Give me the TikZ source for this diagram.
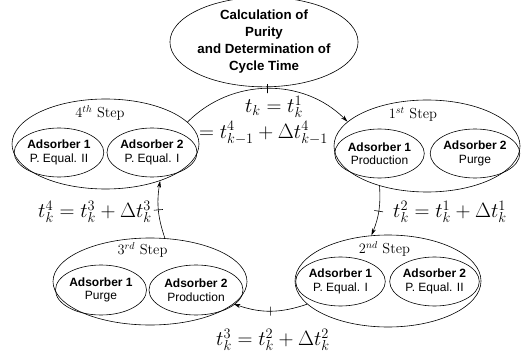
\documentclass[tikz,border=0pt]{standalone}
\usepackage{fontspec}
\newfontfamily\sfarial{Liberation Sans}
\usetikzlibrary{shapes.geometric,arrows.meta,decorations.markings}
\tikzset{
  outerell/.style={ellipse, draw, line width=0.6pt, inner sep=0pt},
  innerell/.style={ellipse, draw, line width=0.6pt, inner sep=0pt, align=center,
    font=\sfarial\fontsize{12}{13.5}\selectfont},
  topell/.style={ellipse, draw, line width=0.6pt, inner sep=0pt, align=center,
    font=\sfarial\bfseries\fontsize{13.3}{17}\selectfont},
  steptitle/.style={font=\fontsize{14.5}{17}\selectfont, inner sep=0pt},
  mathlbl/.style={font=\fontsize{20.2}{25}\selectfont, inner sep=0pt},
  cyc/.style={line width=0.6pt, -{Stealth[length=7pt,width=4pt]},
    postaction={decorate},
    decoration={markings, mark=at position 0.5 with {\draw[-,line width=0.6pt] (0,-4.5pt) -- (0,4.5pt);}}},
}
\begin{document}
\begin{tikzpicture}[x=1pt,y=1pt]
\useasboundingbox (0,0) rectangle (524,359);
% top ellipse
\node[topell, minimum width=166pt, minimum height=80pt] (top) at (264,317)
  {Calculation of\\Purity\\and Determination of\\Cycle Time};
% 4th step
\node[outerell, minimum width=187pt, minimum height=90pt] (s4) at (105.5,215) {};
\node[steptitle] (t4) at (100,246) {$4^{th}$ Step};
\node[innerell, minimum width=88pt, minimum height=49pt] (s4a) at (59,206.5) {\textbf{Adsorber 1}\\P. Equal. II};
\node[innerell, minimum width=90pt, minimum height=49pt] (s4b) at (152,206.5) {\textbf{Adsorber 2}\\P. Equal. I};
% 1st step
\node[outerell, minimum width=186pt, minimum height=92pt] (s1) at (427,213) {};
\node[steptitle] (t1) at (413,245) {$1^{st}$ Step};
\node[innerell, minimum width=87pt, minimum height=49pt] (s1a) at (379.5,205.5) {\textbf{Adsorber 1}\\Production};
\node[innerell, minimum width=88pt, minimum height=49pt] (s1b) at (475,205.5) {\textbf{Adsorber 2}\\Purge};
% 2nd step
\node[outerell, minimum width=186pt, minimum height=92pt] (s2) at (388,78) {};
\node[steptitle] (t2) at (384.5,110) {$2^{nd}$ Step};
\node[innerell, minimum width=89pt, minimum height=49pt] (s2a) at (340.5,77.5) {\textbf{Adsorber 1}\\P. Equal. I};
\node[innerell, minimum width=89pt, minimum height=49pt] (s2b) at (434.5,77.5) {\textbf{Adsorber 2}\\P. Equal. II};
% 3rd step
\node[outerell, minimum width=194pt, minimum height=87pt] (s3) at (150,77.5) {};
\node[steptitle] (t3) at (142.5,109) {$3^{rd}$ Step};
\node[innerell, minimum width=91pt, minimum height=50pt] (s3a) at (101,69) {\textbf{Adsorber 1}\\Purge};
\node[innerell, minimum width=94pt, minimum height=50pt] (s3b) at (196,69) {\textbf{Adsorber 2}\\Production};
% cycle arrows
\draw[cyc] (s4.15) to[bend left=45] (s1.163);
\draw[cyc] (s1.220) to[bend left=13] (s2.110);
\draw[cyc] (s2.196) to[bend left=19] (s3.-15);
\draw[cyc] (s3.71) to[bend left=14] (s4.-34);
% labels
\node[mathlbl] (l1a) at (274,252) {$t_k = t_k^1$};
\node[mathlbl] (l1b) at (263.5,226) {$= t_{k-1}^4 + \Delta t_{k-1}^4$};
\node[mathlbl] (l2) at (450,147) {$t_k^2 = t_k^1 + \Delta t_k^1$};
\node[mathlbl] (l3) at (273,19) {$t_k^3 = t_k^2 + \Delta t_k^2$};
\node[mathlbl] (l4) at (95,147) {$t_k^4 = t_k^3 + \Delta t_k^3$};
\end{tikzpicture}
\end{document}
